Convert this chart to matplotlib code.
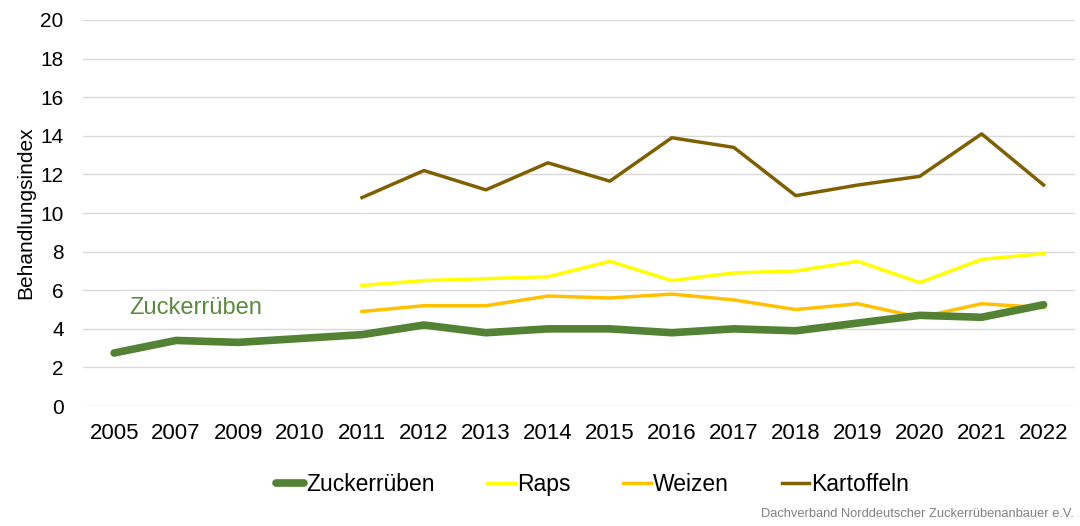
import matplotlib
matplotlib.use("Agg")
import matplotlib.pyplot as plt
import numpy as np

plt.rcParams['font.family'] = ['Liberation Sans', 'DejaVu Sans']

years = ['2005', '2007', '2009', '2010', '2011', '2012', '2013', '2014',
         '2015', '2016', '2017', '2018', '2019', '2020', '2021', '2022']
zucker = [2.75, 3.4, 3.3, 3.5, 3.7, 4.2, 3.8, 4.0, 4.0, 3.8, 4.0, 3.9, 4.3, 4.7, 4.6, 5.25]
# Raps, Weizen, Kartoffeln only from 2011 on
raps = [None] * 4 + [6.25, 6.5, 6.6, 6.7, 7.5, 6.5, 6.9, 7.0, 7.5, 6.4, 7.6, 7.9]
weizen = [None] * 4 + [4.9, 5.2, 5.2, 5.7, 5.6, 5.8, 5.5, 5.0, 5.3, 4.6, 5.3, 5.1]
kartoffeln = [None] * 4 + [10.8, 12.2, 11.2, 12.6, 11.65, 13.9, 13.4, 10.9, 11.45, 11.9, 14.1, 11.45]

def arr(v):
    return np.array([np.nan if x is None else x for x in v], dtype=float)

x = np.arange(len(years))

fig = plt.figure(figsize=(10.8, 5.26), dpi=100)
ax = fig.add_axes([0.077, 0.228, 0.918, 0.734])

ax.plot(x, zucker, color='#548235', lw=5.5, solid_capstyle='round', label='Zuckerrüben', zorder=3)
ax.plot(x, arr(raps), color='#FFFF00', lw=2.5, label='Raps', zorder=2)
ax.plot(x, arr(weizen), color='#FFC000', lw=2.5, label='Weizen', zorder=2)
ax.plot(x, arr(kartoffeln), color='#7F6000', lw=2.5, label='Kartoffeln', zorder=2)

ax.set_xlim(-0.5, len(years) - 0.5)
ax.set_ylim(0, 20)
ax.set_yticks(np.arange(0, 21, 2))
ax.set_xticks(x)
ax.set_xticklabels(years)
ax.tick_params(axis='x', labelsize=16, length=0, pad=12)
ax.tick_params(axis='y', labelsize=15, length=0, pad=14)
ax.yaxis.grid(True, color='#d9d9d9', lw=1)
ax.set_axisbelow(True)
for s in ax.spines.values():
    s.set_visible(False)
ax.set_ylabel('Behandlungsindex', fontsize=15, labelpad=4)

ax.text(0.25, 5.1, 'Zuckerrüben', fontsize=17, color='#5b8a3e', va='center', ha='left',
        bbox=dict(facecolor='white', edgecolor='none', pad=4), zorder=1)

leg = fig.legend(loc='center', bbox_to_anchor=(0.549, 0.078), ncol=4, frameon=False,
                 fontsize=16.5, handlelength=1.2, handletextpad=0.1, columnspacing=2.3)

fig.text(0.994, 0.012, 'Dachverband Norddeutscher Zuckerrübenanbauer e.V.',
         fontsize=9.3, color='#808080', ha='right', va='bottom',
         family=['Liberation Sans Narrow', 'Liberation Sans'])

fig.savefig('out.png', dpi=100)
